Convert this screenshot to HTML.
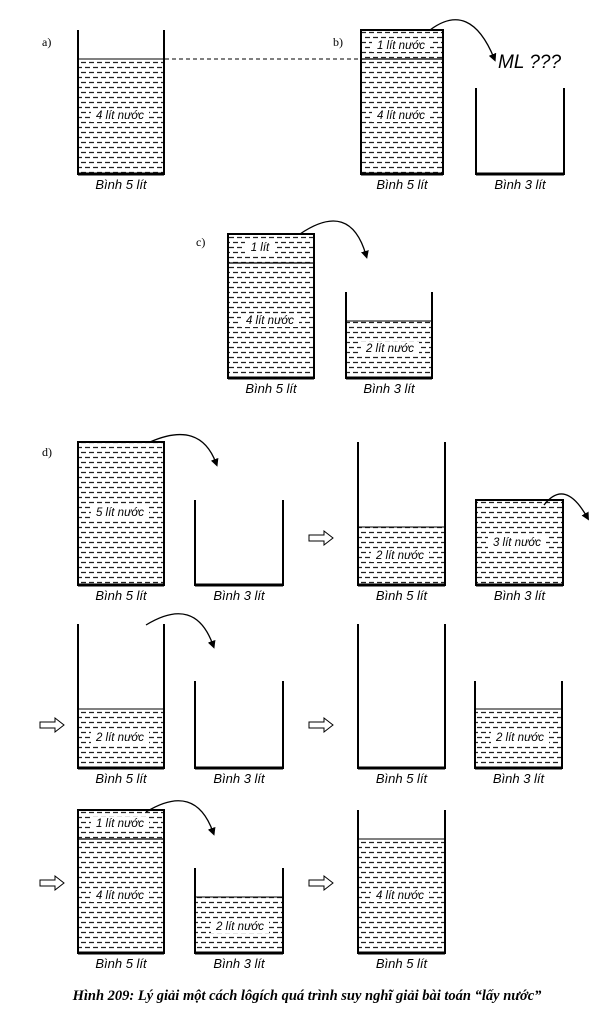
<!DOCTYPE html>
<html><head><meta charset="utf-8">
<style>
body{margin:0;background:#fff;}
svg text{font-family:"Liberation Sans",sans-serif;font-style:italic;}
</style></head>
<body>
<svg id="s" width="595" height="1024" viewBox="0 0 595 1024" xmlns="http://www.w3.org/2000/svg">
<defs>
<pattern id="w" width="16" height="10" patternUnits="userSpaceOnUse">
<rect width="16" height="10" fill="#fff"/>
<path d="M1 2.5h5M9 2.5h5M-3 7.5h5M5 7.5h5M13 7.5h5" stroke="#222" stroke-width="1.3"/>
</pattern>
<marker id="ah" markerWidth="8" markerHeight="8" refX="4" refY="4" orient="auto" markerUnits="userSpaceOnUse">
<path d="M0 0L8 4L0 8Z" fill="#000"/>
</marker>
</defs>
<g id="g"></g>
<text x="42" y="46" style="font-family:'Liberation Serif',serif;font-style:normal" font-size="12">a)</text>
<text x="333" y="46" style="font-family:'Liberation Serif',serif;font-style:normal" font-size="12">b)</text>
<text x="196" y="246" style="font-family:'Liberation Serif',serif;font-style:normal" font-size="12">c)</text>
<text x="42" y="456" style="font-family:'Liberation Serif',serif;font-style:normal" font-size="12">d)</text>
<line x1="165" y1="59" x2="360" y2="59" stroke="#000" stroke-width="1" stroke-dasharray="4,3"/>
<text x="498" y="68" font-size="19">ML ???</text>
<text x="307" y="1000" text-anchor="middle" font-size="14.5" font-weight="bold" style="font-family:'Liberation Serif',serif;font-style:italic">Hình 209: Lý giải một cách lôgích quá trình suy nghĩ giải bài toán “lấy nước”</text>
</svg>
<script>
var g=document.getElementById('g'),h='';
function jar(x1,x2,top,bot,water,closed,line2,label,texts){
  if(water!==null){h+='<rect x="'+x1+'" y="'+water+'" width="'+(x2-x1)+'" height="'+(bot-water)+'" fill="url(#w)"/>';
    h+='<line x1="'+x1+'" y1="'+water+'" x2="'+x2+'" y2="'+water+'" stroke="#000" stroke-width="1"/>';}
  if(line2) h+='<line x1="'+x1+'" y1="'+line2+'" x2="'+x2+'" y2="'+line2+'" stroke="#000" stroke-width="1.3"/>';
  h+='<path d="M'+x1+' '+top+'V'+bot+'H'+x2+'V'+top+(closed?'Z':'')+'" fill="none" stroke="#000" stroke-width="2"/>';
  h+='<line x1="'+x1+'" y1="'+bot+'" x2="'+x2+'" y2="'+bot+'" stroke="#000" stroke-width="3"/>';
  (texts||[]).forEach(function(t){
    var w=t[3]||58;
    h+='<rect x="'+(t[0]-w/2)+'" y="'+(t[1]-10)+'" width="'+w+'" height="13" fill="#fff"/>';
    h+='<text x="'+t[0]+'" y="'+t[1]+'" font-size="11.5" text-anchor="middle">'+t[2]+'</text>';});
  h+='<text x="'+((x1+x2)/2)+'" y="'+(bot+15)+'" font-size="13" text-anchor="middle">'+label+'</text>';
}
function arc(x1,y1,cx,cy,x2,y2){h+='<path d="M'+x1+' '+y1+'Q'+cx+' '+cy+' '+x2+' '+y2+'" fill="none" stroke="#000" stroke-width="1.3" marker-end="url(#ah)"/>';}
function harrow(x,y){h+='<path d="M'+x+' '+(y-3)+'h15v-4l9 7l-9 7v-4h-15z" fill="#fff" stroke="#000" stroke-width="1"/>';}
var B5='Bình 5 lít',B3='Bình 3 lít';
jar(78,164,30,174,59,false,null,B5,[[120,119,'4 lít nước']]);
jar(361,443,30,174,30,true,59,B5,[[401,49,'1 lít nước'],[401,119,'4 lít nước']]);
jar(476,564,88,174,null,false,null,B3);
arc(430,30,470,0,494,58);
jar(228,314,234,378,234,true,263,B5,[[260,251,'1 lít',30],[270,324,'4 lít nước']]);
jar(346,432,292,378,321,false,null,B3,[[390,352,'2 lít nước']]);
arc(300,234,350,200,366,255);
jar(78,164,442,585,442,true,null,B5,[[120,516,'5 lít nước']]);
jar(195,283,500,585,null,false,null,B3);
arc(150,442,200,420,216,463);
harrow(309,538);
jar(358,445,442,585,527,false,null,B5,[[400,559,'2 lít nước']]);
jar(476,563,500,585,500,true,null,B3,[[517,546,'3 lít nước']]);
arc(544,505,565,478,587,517);
harrow(40,725);
jar(78,164,624,768,709,false,null,B5,[[120,741,'2 lít nước']]);
jar(195,283,681,768,null,false,null,B3);
arc(146,625,195,595,213,645);
harrow(309,725);
jar(358,445,624,768,null,false,null,B5);
jar(475,562,681,768,709,false,null,B3,[[520,741,'2 lít nước']]);
harrow(40,883);
jar(78,164,810,953,810,true,839,B5,[[120,827,'1 lít nước'],[120,899,'4 lít nước']]);
jar(195,283,868,953,897,false,null,B3,[[240,930,'2 lít nước']]);
arc(146,812,195,782,213,832);
harrow(309,883);
jar(358,445,810,953,839,false,null,B5,[[400,899,'4 lít nước']]);
g.innerHTML=h;
</script>
</body></html>
